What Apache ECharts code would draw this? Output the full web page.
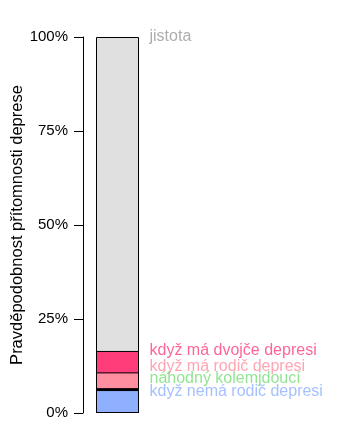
<!DOCTYPE html>
<html><head><meta charset="utf-8">
<script src="https://cdn.jsdelivr.net/npm/echarts@6/dist/echarts.min.js"></script>
<style>html,body{margin:0;padding:0;background:#fff}#c{width:343px;height:436px}</style>
</head><body><div id="c"></div>
<script>
// Cumulative levels (percent)
const levelNames = ["jistota", "když má dvojče depresi", "když má rodič depresi", "náhodný kolemjdoucí", "když nemá rodič depresi"];
const levelValues = [100, 16.5, 10.8, 6.6, 6.1];
const fillColors = ["#e0e0e0", "#ff3d7a", "#ff8fa0", "#000000", "#8fb0ff"];
const textColors = ["#999999", "#ff3d7a", "#ff8fa0", "#77dd77", "#8fb0ff"];
// label vertical anchors (percent)
const labelLevels = [100, 16.6, 12.4, 9.1, 5.8];
const yTicks = ["0%", "25%", "50%", "75%", "100%"];
const category = ["P"];

const series = [];
levelValues.forEach((v, i) => {
  series.push({
    type: 'bar', data: [v], barWidth: 43, barGap: '-100%', z: 2 + i,
    itemStyle: { color: fillColors[i], borderColor: '#000', borderWidth: 1 },
    animation: false, silent: true
  });
});
series.push({
  type: 'scatter', symbolSize: 0, z: 20, animation: false, silent: true,
  data: labelLevels.map((y, i) => ({
    value: [0, y],
    label: { show: true, position: 'right', distance: 32, formatter: levelNames[i],
      color: textColors[i], fontSize: 16, fontFamily: 'Liberation Sans, Arial, sans-serif' }
  }))
});

const chart = echarts.init(document.getElementById('c'));
chart.setOption({
  backgroundColor: '#fff',
  grid: { left: 83, right: 191, top: 37, bottom: 23 },
  xAxis: { type: 'category', data: category, show: false },
  yAxis: {
    type: 'value', min: 0, max: 100, interval: 25,
    name: 'Pravděpodobnost přítomnosti deprese', nameLocation: 'middle', nameGap: 56, nameRotate: 90,
    nameTextStyle: { color: '#000', fontSize: 16.5, fontFamily: 'Liberation Sans, Arial, sans-serif' },
    axisLine: { show: true, lineStyle: { color: '#000', width: 1 } },
    axisTick: { show: true, length: 9, lineStyle: { color: '#000' } },
    axisLabel: { color: '#000', fontSize: 15, margin: 15, fontFamily: 'Liberation Sans, Arial, sans-serif',
      formatter: v => yTicks[Math.round(v / 25)] },
    splitLine: { show: false }
  },
  series: series
});
</script></body></html>
